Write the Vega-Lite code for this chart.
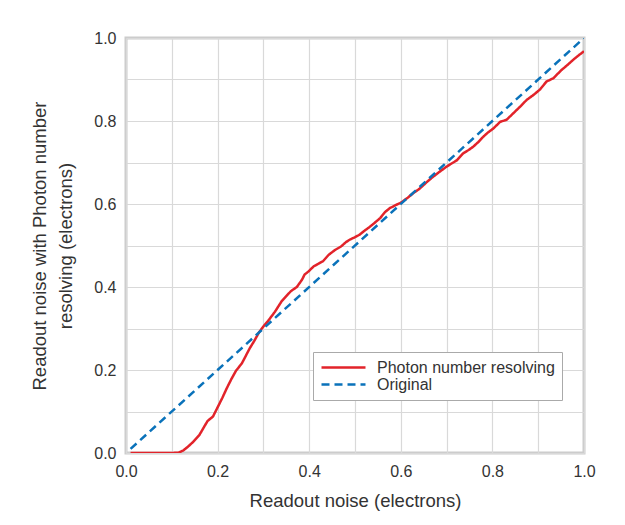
{
  "$schema": "https://vega.github.io/schema/vega-lite/v6.json",
  "width": 458,
  "height": 415,
  "autosize": {"type": "none"},
  "padding": {"left": 126, "top": 38, "right": 41, "bottom": 72},
  "background": "white",
  "config": {
    "view": {"stroke": "#cccccc", "strokeWidth": 3},
    "font": "Liberation Sans",
    "axis": {
      "domain": false,
      "ticks": false,
      "gridColor": "#d9d9d9",
      "gridWidth": 1.2,
      "labelFont": "Liberation Sans",
      "labelFontSize": 16,
      "labelColor": "#333333",
      "titleFont": "Liberation Sans",
      "titleFontSize": 18.5,
      "titleFontWeight": "normal",
      "titleColor": "#333333"
    },
    "legend": {
      "labelFont": "Liberation Sans",
      "labelFontSize": 16,
      "labelColor": "#333333"
    }
  },
  "data": {
    "values": [
      {"s": "Photon number resolving", "x": 0.01, "y": 0},
      {"s": "Photon number resolving", "x": 0.05, "y": 0},
      {"s": "Photon number resolving", "x": 0.1, "y": 0},
      {"s": "Photon number resolving", "x": 0.115, "y": 0.001},
      {"s": "Photon number resolving", "x": 0.125, "y": 0.006},
      {"s": "Photon number resolving", "x": 0.135, "y": 0.015},
      {"s": "Photon number resolving", "x": 0.145, "y": 0.025},
      {"s": "Photon number resolving", "x": 0.16, "y": 0.043},
      {"s": "Photon number resolving", "x": 0.17, "y": 0.062},
      {"s": "Photon number resolving", "x": 0.178, "y": 0.077},
      {"s": "Photon number resolving", "x": 0.19, "y": 0.088},
      {"s": "Photon number resolving", "x": 0.2, "y": 0.11},
      {"s": "Photon number resolving", "x": 0.21, "y": 0.132},
      {"s": "Photon number resolving", "x": 0.22, "y": 0.156},
      {"s": "Photon number resolving", "x": 0.23, "y": 0.178},
      {"s": "Photon number resolving", "x": 0.24, "y": 0.198},
      {"s": "Photon number resolving", "x": 0.253, "y": 0.216},
      {"s": "Photon number resolving", "x": 0.262, "y": 0.235},
      {"s": "Photon number resolving", "x": 0.27, "y": 0.252},
      {"s": "Photon number resolving", "x": 0.28, "y": 0.27},
      {"s": "Photon number resolving", "x": 0.29, "y": 0.29},
      {"s": "Photon number resolving", "x": 0.3, "y": 0.305},
      {"s": "Photon number resolving", "x": 0.31, "y": 0.318},
      {"s": "Photon number resolving", "x": 0.325, "y": 0.34},
      {"s": "Photon number resolving", "x": 0.34, "y": 0.366},
      {"s": "Photon number resolving", "x": 0.35, "y": 0.378},
      {"s": "Photon number resolving", "x": 0.36, "y": 0.39},
      {"s": "Photon number resolving", "x": 0.373, "y": 0.4},
      {"s": "Photon number resolving", "x": 0.384, "y": 0.417},
      {"s": "Photon number resolving", "x": 0.39, "y": 0.43},
      {"s": "Photon number resolving", "x": 0.398, "y": 0.437},
      {"s": "Photon number resolving", "x": 0.41, "y": 0.45},
      {"s": "Photon number resolving", "x": 0.42, "y": 0.456},
      {"s": "Photon number resolving", "x": 0.43, "y": 0.462},
      {"s": "Photon number resolving", "x": 0.442, "y": 0.477},
      {"s": "Photon number resolving", "x": 0.456, "y": 0.489},
      {"s": "Photon number resolving", "x": 0.47, "y": 0.498},
      {"s": "Photon number resolving", "x": 0.48, "y": 0.508},
      {"s": "Photon number resolving", "x": 0.49, "y": 0.515},
      {"s": "Photon number resolving", "x": 0.5, "y": 0.52},
      {"s": "Photon number resolving", "x": 0.51, "y": 0.526},
      {"s": "Photon number resolving", "x": 0.52, "y": 0.535},
      {"s": "Photon number resolving", "x": 0.53, "y": 0.543},
      {"s": "Photon number resolving", "x": 0.54, "y": 0.552},
      {"s": "Photon number resolving", "x": 0.555, "y": 0.566},
      {"s": "Photon number resolving", "x": 0.565, "y": 0.58},
      {"s": "Photon number resolving", "x": 0.576, "y": 0.59},
      {"s": "Photon number resolving", "x": 0.59, "y": 0.598},
      {"s": "Photon number resolving", "x": 0.6, "y": 0.603},
      {"s": "Photon number resolving", "x": 0.615, "y": 0.615},
      {"s": "Photon number resolving", "x": 0.627, "y": 0.626},
      {"s": "Photon number resolving", "x": 0.64, "y": 0.636},
      {"s": "Photon number resolving", "x": 0.65, "y": 0.646},
      {"s": "Photon number resolving", "x": 0.66, "y": 0.656},
      {"s": "Photon number resolving", "x": 0.671, "y": 0.666},
      {"s": "Photon number resolving", "x": 0.685, "y": 0.678},
      {"s": "Photon number resolving", "x": 0.7, "y": 0.69},
      {"s": "Photon number resolving", "x": 0.71, "y": 0.697},
      {"s": "Photon number resolving", "x": 0.722, "y": 0.705},
      {"s": "Photon number resolving", "x": 0.736, "y": 0.722},
      {"s": "Photon number resolving", "x": 0.748, "y": 0.73},
      {"s": "Photon number resolving", "x": 0.758, "y": 0.738},
      {"s": "Photon number resolving", "x": 0.77, "y": 0.75},
      {"s": "Photon number resolving", "x": 0.78, "y": 0.762},
      {"s": "Photon number resolving", "x": 0.79, "y": 0.772},
      {"s": "Photon number resolving", "x": 0.802, "y": 0.782},
      {"s": "Photon number resolving", "x": 0.817, "y": 0.798},
      {"s": "Photon number resolving", "x": 0.831, "y": 0.803},
      {"s": "Photon number resolving", "x": 0.846, "y": 0.819},
      {"s": "Photon number resolving", "x": 0.86, "y": 0.834},
      {"s": "Photon number resolving", "x": 0.875, "y": 0.851},
      {"s": "Photon number resolving", "x": 0.89, "y": 0.863},
      {"s": "Photon number resolving", "x": 0.904, "y": 0.876},
      {"s": "Photon number resolving", "x": 0.918, "y": 0.895},
      {"s": "Photon number resolving", "x": 0.933, "y": 0.903},
      {"s": "Photon number resolving", "x": 0.951, "y": 0.923},
      {"s": "Photon number resolving", "x": 0.965, "y": 0.936},
      {"s": "Photon number resolving", "x": 0.977, "y": 0.948},
      {"s": "Photon number resolving", "x": 0.988, "y": 0.958},
      {"s": "Photon number resolving", "x": 1.0, "y": 0.968},
      {"s": "Original", "x": 0.01, "y": 0.01},
      {"s": "Original", "x": 1.0, "y": 1.0}
    ]
  },
  "mark": {"type": "line", "strokeWidth": 2.5, "clip": true},
  "encoding": {
    "x": {
      "field": "x",
      "type": "quantitative",
      "scale": {"domain": [0, 1], "nice": false},
      "axis": {
        "title": "Readout noise (electrons)",
        "values": [0, 0.1, 0.2, 0.3, 0.4, 0.5, 0.6, 0.7, 0.8, 0.9, 1.0],
        "labelExpr": "round(datum.value*10)%2==0 ? format(datum.value, '.1f') : ''",
        "labelPadding": 10,
        "titlePadding": 12,
        "labelFlush": false
      }
    },
    "y": {
      "field": "y",
      "type": "quantitative",
      "scale": {"domain": [0, 1], "nice": false},
      "axis": {
        "title": ["Readout noise with Photon number", "resolving (electrons)"],
        "titleLineHeight": 26,
        "values": [0, 0.1, 0.2, 0.3, 0.4, 0.5, 0.6, 0.7, 0.8, 0.9, 1.0],
        "labelExpr": "round(datum.value*10)%2==0 ? format(datum.value, '.1f') : ''",
        "labelPadding": 10,
        "titlePadding": 18,
        "labelFlush": false
      }
    },
    "color": {
      "field": "s",
      "type": "nominal",
      "scale": {"domain": ["Photon number resolving", "Original"], "range": ["#e2232a", "#0a72ba"]},
      "legend": {
        "title": null,
        "orient": "none",
        "legendX": 187,
        "legendY": 314,
        "symbolType": "stroke",
        "symbolSize": 1936,
        "symbolStrokeWidth": 2.5,
        "strokeColor": "#aaaaaa",
        "fillColor": "white",
        "padding": 7,
        "rowPadding": 0,
        "clipHeight": 17,
        "labelOffset": 10,
        "labelLimit": 400
      }
    },
    "strokeDash": {
      "field": "s",
      "type": "nominal",
      "scale": {"domain": ["Photon number resolving", "Original"], "range": [[1, 0], [8, 5]]},
      "legend": {
        "title": null,
        "orient": "none",
        "legendX": 187,
        "legendY": 314,
        "symbolType": "stroke",
        "symbolSize": 1936,
        "symbolStrokeWidth": 2.5,
        "strokeColor": "#aaaaaa",
        "fillColor": "white",
        "padding": 7,
        "rowPadding": 0,
        "clipHeight": 17,
        "labelOffset": 10,
        "labelLimit": 400
      }
    }
  }
}
